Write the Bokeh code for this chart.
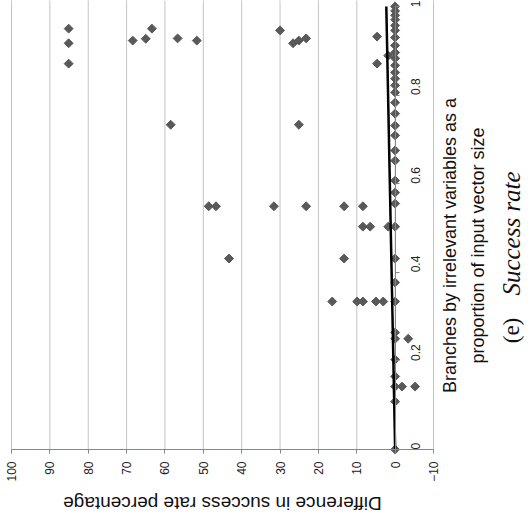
import math
from bokeh.plotting import figure
from bokeh.models import Range1d, FixedTicker, Label, LinearAxis
from bokeh.embed import file_html
from bokeh.resources import INLINE

# ---- data ----
branch_vals = [
    0.950, 0.917, 0.871,
    0.923, 0.927, 0.950, 0.928, 0.923,
    0.733,
    0.549, 0.549,
    0.431,
    0.946, 0.917, 0.923, 0.928,
    0.733,
    0.549, 0.549, 0.549, 0.549,
    0.503, 0.503, 0.503,
    0.431,
    0.932, 0.871, 0.889,
    0.334, 0.334, 0.334, 0.334, 0.334,
    0.250, 0.142, 0.142,
]
diff_vals = [
    85.1, 85.1, 85.1,
    68.4, 65.0, 63.4, 56.7, 51.7,
    58.5,
    48.6, 46.7,
    43.3,
    30.0, 26.6, 25.1, 23.2,
    25.1,
    31.6, 23.2, 13.3, 8.4,
    8.4, 6.5, 1.8,
    13.3,
    4.7, 4.7, 1.8,
    16.4, 9.9, 8.4, 5.0, 3.1,
    -3.4, -1.8, -5.2,
]
zero_branch_vals = [0.0, 0.108, 0.142, 0.165, 0.203, 0.25, 0.264, 0.334, 0.377,
                    0.431, 0.503, 0.555, 0.58, 0.607, 0.652, 0.675, 0.709, 0.731,
                    0.758, 0.783, 0.806, 0.822, 0.837, 0.851, 0.867, 0.883, 0.896,
                    0.912, 0.93, 0.946, 0.957, 0.97, 0.98, 0.99, 1.0]
zero_diff_vals = [0.0] * len(zero_branch_vals)

trend_branch = [0.0, 1.0]
trend_diff = [0.0, 2.3]

diff_ticks = [100, 90, 80, 70, 60, 50, 40, 30, 20, 10, 0, -10]
branch_ticks = [0, 0.2, 0.4, 0.6, 0.8, 1]
branch_min, branch_max = 0.0, 1.0
diff_min, diff_max = -10, 100

SANS = "Liberation Sans"
SERIF = "Liberation Serif"

# the frame covers the whole canvas; axes sit at fixed data locations
p = figure(width=524, height=517,
           x_range=Range1d(102.867, -33.72), y_range=Range1d(-0.1535, 1.0135),
           x_axis_location=None, y_axis_location=None,
           output_backend="svg", toolbar_location=None,
           min_border_left=0, min_border_right=0,
           min_border_top=0, min_border_bottom=0)
p.outline_line_color = None
p.background_fill_color = "white"
p.border_fill_color = "white"
p.xgrid.visible = False
p.ygrid.visible = False

# vertical grid lines at the difference ticks, spanning the branch range
p.segment(x0=diff_ticks, y0=[branch_min] * len(diff_ticks),
          x1=diff_ticks, y1=[1.02] * len(diff_ticks),
          line_color="#c4c4c4", line_width=1)

# bottom axis (difference), crossing at branch 0
xa = LinearAxis(fixed_location=0, bounds=(diff_min, diff_max),
                ticker=FixedTicker(ticks=diff_ticks))
xa.major_label_orientation = math.pi / 2
xa.major_label_text_font = SANS
xa.major_label_text_font_size = "12px"
xa.major_label_text_color = "#222222"
xa.axis_line_color = "#868686"
xa.major_tick_line_color = "#868686"
xa.major_tick_out = 4
xa.major_tick_in = 0
xa.minor_tick_line_color = None
xa.major_label_standoff = 8
p.add_layout(xa, "below")

# branch axis, crossing at difference 0
ya = LinearAxis(fixed_location=0, bounds=(branch_min, branch_max),
                ticker=FixedTicker(ticks=branch_ticks))
ya.major_label_orientation = math.pi / 2
ya.major_label_text_font = SANS
ya.major_label_text_font_size = "12px"
ya.major_label_text_color = "#222222"
ya.axis_line_color = "#868686"
ya.major_tick_line_color = "#868686"
ya.major_tick_out = 4
ya.major_tick_in = 0
ya.minor_tick_line_color = None
ya.major_label_standoff = 16
p.add_layout(ya, "right")

# points
p.scatter(diff_vals, branch_vals, marker="square", angle=math.pi / 4,
          size=6.3, fill_color="#595959", line_color="#595959")
p.scatter(zero_diff_vals, zero_branch_vals, marker="square", angle=math.pi / 4,
          size=6.3, fill_color="#595959", line_color="#595959")

# trend line
p.line(trend_diff, trend_branch, line_color="black", line_width=2.5)

# titles
p.add_layout(Label(x=45.0, y=-0.122, text="Difference in success rate percentage",
                   angle=math.pi, text_align="center", text_baseline="middle",
                   text_font=SANS, text_font_size="19px", text_color="#111111"))
p.add_layout(Label(x=-14.43, y=0.4605, text="Branches by irrelevant variables as a",
                   angle=math.pi / 2, text_align="center", text_baseline="middle",
                   text_font=SANS, text_font_size="18px", text_color="#111111"))
p.add_layout(Label(x=-21.47, y=0.4605, text="proportion of input vector size",
                   angle=math.pi / 2, text_align="center", text_baseline="middle",
                   text_font=SANS, text_font_size="18px", text_color="#111111"))
p.add_layout(Label(x=-30.33, y=0.2686, text="(e)",
                   angle=math.pi / 2, text_align="center", text_baseline="middle",
                   text_font=SERIF, text_font_size="23px", text_color="#111111"))
p.add_layout(Label(x=-30.33, y=0.4876, text="Success rate",
                   angle=math.pi / 2, text_align="center", text_baseline="middle",
                   text_font=SERIF, text_font_style="italic", text_font_size="25px",
                   text_color="#111111"))

open("out.html", "w").write(file_html(p, INLINE))
